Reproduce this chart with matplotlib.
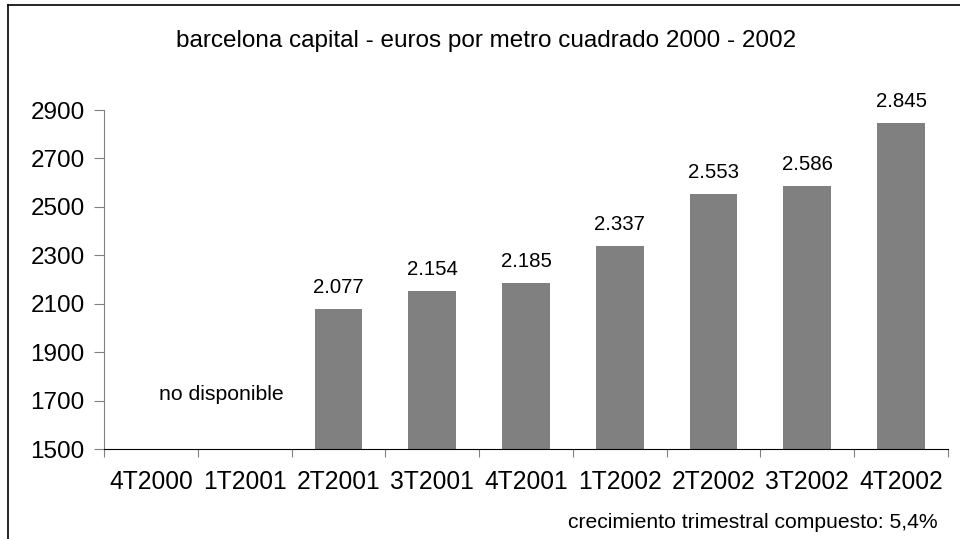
import matplotlib
matplotlib.use("Agg")
import matplotlib.pyplot as plt
from matplotlib.lines import Line2D

plt.rcParams['font.family'] = ['Liberation Sans', 'DejaVu Sans']

quarters = ["4T2000", "1T2001", "2T2001", "3T2001", "4T2001",
            "1T2002", "2T2002", "3T2002", "4T2002"]
prices = [None, None, 2077, 2154, 2185, 2337, 2553, 2586, 2845]
yticks = [1500, 1700, 1900, 2100, 2300, 2500, 2700, 2900]


def fmt(v):
    return f"{v:,}".replace(",", ".")


fig = plt.figure(figsize=(9.6, 5.39), dpi=100)
ax = fig.add_axes([104 / 960, 1 - 449 / 539, 844 / 960, 339 / 539])

base = 1500
for i, v in enumerate(prices):
    if v is None:
        continue
    ax.bar(i, v - base, bottom=base, width=0.51, color="#808080")
    ax.text(i, v + 50, fmt(v), ha="center", va="bottom", fontsize=14.7)

ax.set_xlim(-0.5, len(quarters) - 0.5)
ax.set_ylim(1500, 2900)
ax.set_yticks(yticks)
ax.set_yticklabels([str(t) for t in yticks], fontsize=17.5)
ax.set_xticks([i + 0.5 for i in range(-1, len(quarters))])
ax.set_xticklabels([])
ax.set_xticks(range(len(quarters)), minor=True)
ax.set_xticklabels(quarters, minor=True, fontsize=17.7)
ax.tick_params(axis="x", which="major", direction="out", length=6, color="#808080")
ax.tick_params(axis="x", which="minor", length=0, pad=15)
ax.tick_params(axis="y", direction="out", length=7, color="#808080", pad=7)

for s in ["top", "right"]:
    ax.spines[s].set_visible(False)
ax.spines["left"].set_color("#808080")
ax.spines["bottom"].set_color("black")

ax.text(0.75, 1725, "no disponible", ha="center", va="center", fontsize=15.3)

fig.text(486 / 960, 1 - 41 / 539, "barcelona capital - euros por metro cuadrado 2000 - 2002",
         ha="center", va="center", fontsize=17.5)
fig.text(938 / 960, 1 - 523 / 539, "crecimiento trimestral compuesto: 5,4%",
         ha="right", va="center", fontsize=15.2)

# frame lines (left and top)
fig.add_artist(Line2D([8 / 960, 8 / 960], [0, 1 - 5 / 539], color="black", lw=1.2))
fig.add_artist(Line2D([8 / 960, 1], [1 - 5 / 539, 1 - 5 / 539], color="black", lw=1.2))

fig.savefig("out.png", dpi=100)
